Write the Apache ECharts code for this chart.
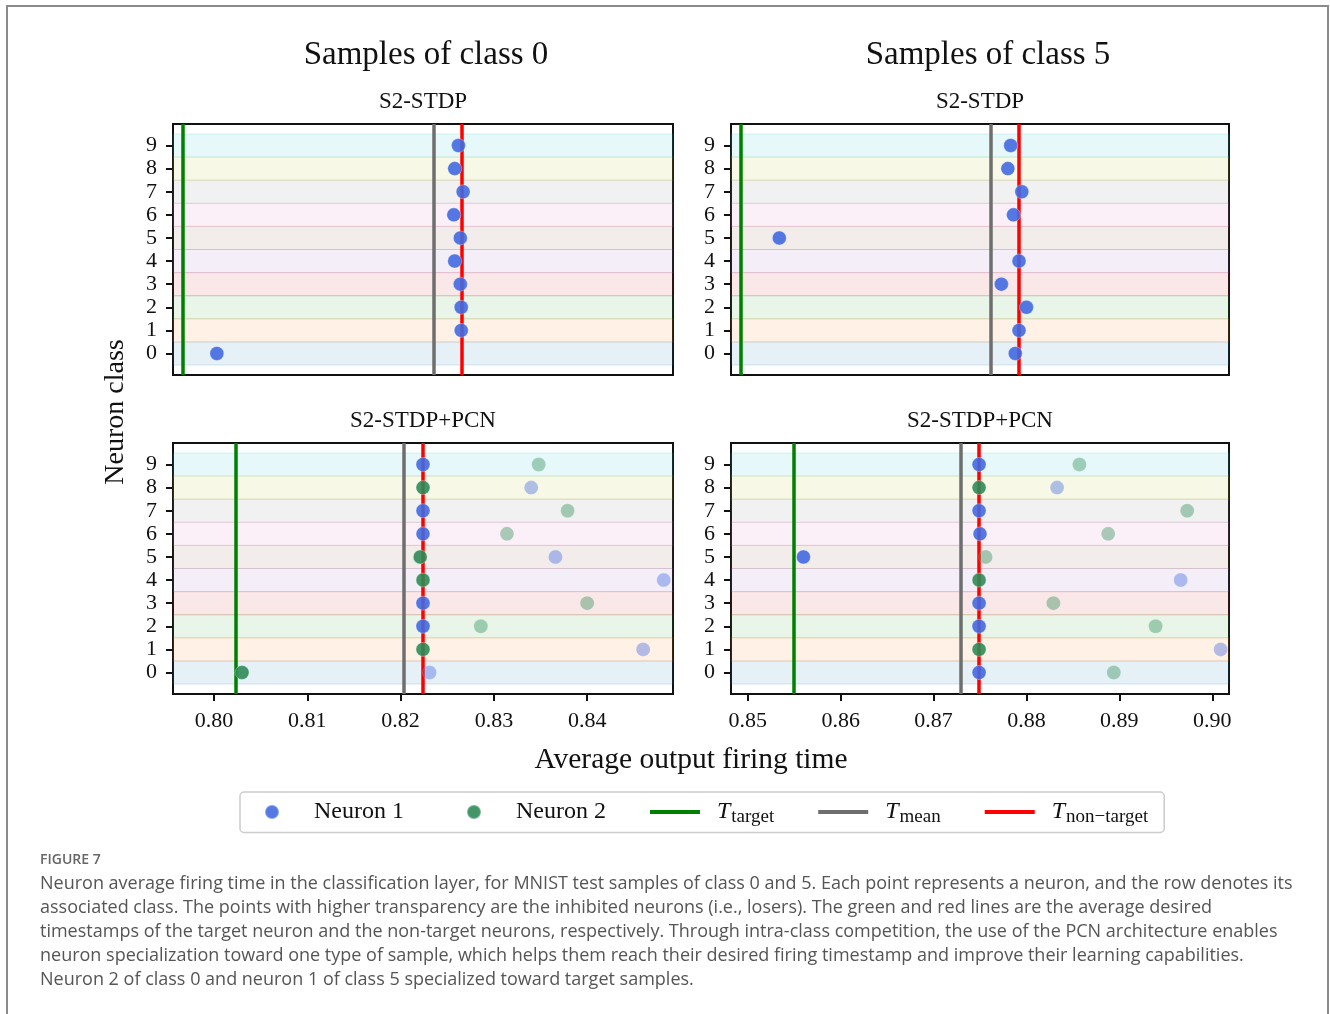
<!DOCTYPE html>
<html>
<head>
<meta charset="utf-8">
<script src="https://cdn.jsdelivr.net/npm/echarts@6/dist/echarts.min.js"></script>
<style>
  html, body { margin: 0; padding: 0; background: #fff; }
  #chart { width: 1330px; height: 1014px; }
</style>
</head>
<body>
<div id="chart"></div>
<script>
// neuron classes (rows) and tick labels
const classes = [0, 1, 2, 3, 4, 5, 6, 7, 8, 9]
const yTicks = [0, 1, 2, 3, 4, 5, 6, 7, 8, 9]
const xTicksClass0 = [0.80, 0.81, 0.82, 0.83, 0.84]
const xTicksClass5 = [0.85, 0.86, 0.87, 0.88, 0.89, 0.90]

// S2-STDP: one neuron per class, average firing time (index = class)
const stdpClass0 = [0.8003, 0.8265, 0.8265, 0.8264, 0.8258, 0.8264, 0.8257, 0.8267, 0.8258, 0.8262]
const stdpClass5 = [0.8788, 0.8792, 0.8800, 0.8773, 0.8792, 0.8534, 0.8786, 0.8795, 0.8780, 0.8783]

// S2-STDP+PCN: two neurons per class
const pcnClass0N1 = [0.8231, 0.8460, 0.8224, 0.8224, 0.8482, 0.8366, 0.8224, 0.8224, 0.8340, 0.8224]
const pcnClass0N2 = [0.8030, 0.8224, 0.8286, 0.8400, 0.8224, 0.8221, 0.8314, 0.8379, 0.8224, 0.8348]
const pcnClass5N1 = [0.8749, 0.9009, 0.8749, 0.8749, 0.8966, 0.8560, 0.8750, 0.8749, 0.8833, 0.8749]
const pcnClass5N2 = [0.8894, 0.8749, 0.8939, 0.8829, 0.8749, 0.8756, 0.8888, 0.8973, 0.8749, 0.8857]
// neuron that wins the competition in each class (the other one is inhibited)
const winnerClass0 = [2, 2, 1, 1, 2, 2, 1, 1, 2, 1]
const winnerClass5 = [1, 2, 1, 1, 2, 1, 1, 1, 2, 1]

// [T_target, T_mean, T_non-target]
const timesStdp0 = [0.7966, 0.8236, 0.8266]
const timesStdp5 = [0.8492, 0.8762, 0.8792]
const timesPcn0 = [0.8023, 0.8203, 0.8224]
const timesPcn5 = [0.8549, 0.8729, 0.8749]

const SERIF = '"Liberation Serif", "DejaVu Serif", serif'
const tab10 = ['31,119,180', '255,127,14', '44,160,44', '214,39,40', '148,103,189',
  '140,86,75', '227,119,194', '127,127,127', '188,189,34', '23,190,207']
const lineNames = ['target', 'mean', 'nontarget']
const lineColors = ['#008000', '#6e6e6e', '#ff0000']

// legend icons, both drawn inside a 50x14 box
const dotIcon = 'path://M0,7L0,7M50,7L50,7M25,0A7,7 0 1,1 25,14A7,7 0 1,1 25,0Z'
const barIcon = 'path://M0,5L50,5L50,9L0,9Z M0,0L0,0M0,14L0,14'

const panels = [
  { grid: { left: 173, top: 124, width: 500, height: 251 }, range: [0.7956, 0.8492], ticks: xTicksClass0, bottom: false,
    n1: stdpClass0, n2: null, winner: null, times: timesStdp0 },
  { grid: { left: 731, top: 124, width: 498, height: 251 }, range: [0.8482, 0.9018], ticks: xTicksClass5, bottom: false,
    n1: stdpClass5, n2: null, winner: null, times: timesStdp5 },
  { grid: { left: 173, top: 443, width: 500, height: 251 }, range: [0.7956, 0.8492], ticks: xTicksClass0, bottom: true,
    n1: pcnClass0N1, n2: pcnClass0N2, winner: winnerClass0, times: timesPcn0 },
  { grid: { left: 731, top: 443, width: 498, height: 251 }, range: [0.8482, 0.9018], ticks: xTicksClass5, bottom: true,
    n1: pcnClass5N1, n2: pcnClass5N2, winner: winnerClass5, times: timesPcn5 }
]

const grids = []
const xAxes = []
const yAxes = []
const series = []

function dots (values, neuron, winner) {
  return classes.map(c => ({
    value: [values[c], c],
    itemStyle: { opacity: winner && winner[c] !== neuron ? 0.4 : 0.9 }
  }))
}

panels.forEach((p, i) => {
  grids.push(Object.assign({ show: true, borderColor: '#111', borderWidth: 2, backgroundColor: 'transparent', containLabel: false, outerBoundsMode: 'none' }, p.grid))
  xAxes.push({
    type: 'value', gridIndex: i, min: p.range[0], max: p.range[1],
    axisLine: { show: true, onZero: false, lineStyle: { color: '#111', width: 2 } },
    axisTick: { show: p.bottom, length: 7, customValues: p.ticks, lineStyle: { color: '#111', width: 2 } },
    axisLabel: { show: p.bottom, customValues: p.ticks, margin: 16, formatter: v => v.toFixed(2),
      fontFamily: SERIF, fontSize: 22, color: '#111' },
    splitLine: { show: false }
  })
  yAxes.push({
    type: 'value', gridIndex: i, min: -0.93, max: 9.93,
    axisLine: { show: true, onZero: false, lineStyle: { color: '#111', width: 2 } },
    axisTick: { show: true, length: 7, customValues: yTicks, lineStyle: { color: '#111', width: 2 } },
    axisLabel: { show: true, customValues: yTicks, margin: 16, fontFamily: SERIF, fontSize: 22, color: '#111' },
    splitLine: { show: false }
  })

  // coloured class bands
  series.push({
    type: 'scatter', name: 'bands', xAxisIndex: i, yAxisIndex: i, data: [], silent: true, z: 1,
    markArea: {
      silent: true,
      data: classes.map(c => [
        { yAxis: c - 0.5, itemStyle: { color: 'rgba(' + tab10[c] + ',0.11)', borderColor: 'rgba(' + tab10[c] + ',0.16)', borderWidth: 1 } },
        { yAxis: c + 0.5 }
      ])
    }
  })

  // T_target, T_mean, T_non-target
  p.times.forEach((t, k) => {
    series.push({
      type: 'line', name: lineNames[k], xAxisIndex: i, yAxisIndex: i, data: [], symbol: 'none', z: 3,
      lineStyle: { color: lineColors[k], width: 4 }, itemStyle: { color: lineColors[k] },
      markLine: {
        silent: true, symbol: ['none', 'none'], precision: 6, label: { show: false },
        lineStyle: { color: lineColors[k], width: 3.5, type: 'solid', opacity: 1 },
        data: [{ xAxis: t }]
      }
    })
  })

  series.push({
    type: 'scatter', name: 'Neuron 1', xAxisIndex: i, yAxisIndex: i, symbolSize: 14, z: 5,
    itemStyle: { color: '#4169e1', borderColor: 'rgba(255,255,255,0.35)', borderWidth: 1, opacity: 0.9 },
    data: dots(p.n1, 1, p.winner)
  })
  if (p.n2) {
    series.push({
      type: 'scatter', name: 'Neuron 2', xAxisIndex: i, yAxisIndex: i, symbolSize: 14, z: 5,
      itemStyle: { color: '#2e8b57', borderColor: 'rgba(255,255,255,0.35)', borderWidth: 1, opacity: 0.9 },
      data: dots(p.n2, 2, p.winner)
    })
  }
})

function txt (text, x, y, size, extra) {
  return Object.assign({
    type: 'text', x: x, y: y, silent: true,
    style: { text: text, x: 0, y: 0, font: size + 'px ' + SERIF, fill: '#111',
      align: 'center', verticalAlign: 'middle', textAlign: 'center', textVerticalAlign: 'middle' }
  }, extra || {})
}

const caption = [
  'Neuron average firing time in the classification layer, for MNIST test samples of class 0 and 5. Each point represents a neuron, and the row denotes its',
  'associated class. The points with higher transparency are the inhibited neurons (i.e., losers). The green and red lines are the average desired',
  'timestamps of the target neuron and the non-target neurons, respectively. Through intra-class competition, the use of the PCN architecture enables',
  'neuron specialization toward one type of sample, which helps them reach their desired firing timestamp and improve their learning capabilities.',
  'Neuron 2 of class 0 and neuron 1 of class 5 specialized toward target samples.'
]

const legendLabels = {
  'Neuron 1': '{n|Neuron 1}',
  'Neuron 2': '{n|Neuron 2}',
  target: '{t|T}{s|target}',
  mean: '{t|T}{s|mean}',
  nontarget: '{t|T}{s|non−target}'
}

const option = {
  animation: false,
  backgroundColor: '#fff',
  grid: grids,
  xAxis: xAxes,
  yAxis: yAxes,
  legend: {
    left: 240, top: 792,
    data: [
      { name: 'Neuron 1', icon: dotIcon, itemStyle: { color: '#4169e1', opacity: 0.9 } },
      { name: 'Neuron 2', icon: dotIcon, itemStyle: { color: '#2e8b57', opacity: 0.9 } },
      { name: 'target', icon: barIcon, itemStyle: { color: lineColors[0] } },
      { name: 'mean', icon: barIcon, itemStyle: { color: lineColors[1] } },
      { name: 'nontarget', icon: barIcon, itemStyle: { color: lineColors[2] } }
    ],
    itemWidth: 50, itemHeight: 14, itemGap: 44,
    padding: [8, 16, 6, 6],
    borderColor: '#cccccc', borderWidth: 1.5, borderRadius: 4,
    selectedMode: false,
    formatter: name => legendLabels[name],
    textStyle: {
      rich: {
        n: { fontFamily: SERIF, fontSize: 24, color: '#111', padding: [0, 0, 0, 12] },
        t: { fontFamily: SERIF, fontSize: 24, fontStyle: 'italic', color: '#111', padding: [0, 0, 0, 12] },
        s: { fontFamily: SERIF, fontSize: 19, color: '#111', padding: [10, 0, 0, 1] }
      }
    }
  },
  graphic: [
    { type: 'polyline', silent: true, shape: { points: [[7, 1014], [7, 6], [1328, 6], [1328, 1014]] },
      style: { stroke: '#8a8a8a', lineWidth: 2, fill: null } },
    txt('Samples of class 0', 426, 55, 33),
    txt('Samples of class 5', 988, 55, 33),
    txt('S2-STDP', 423, 102, 23),
    txt('S2-STDP', 980, 102, 23),
    txt('S2-STDP+PCN', 423, 421, 23),
    txt('S2-STDP+PCN', 980, 421, 23),
    txt('Neuron class', 116, 412, 28, { rotation: Math.PI / 2 }),
    txt('Average output firing time', 691, 760, 29.5),
    { type: 'text', x: 40, y: 860, silent: true,
      style: { text: 'FIGURE 7', font: '600 14px "Open Sans", sans-serif', fill: '#666',
        verticalAlign: 'middle', textVerticalAlign: 'middle' } },
    { type: 'text', x: 40, y: 872, silent: true,
      style: { text: caption.join('\n'), font: '18px "Open Sans", sans-serif', fill: '#555', lineHeight: 24 } }
  ],
  series: series
}

const chart = echarts.init(document.getElementById('chart'))
chart.setOption(option)
</script>
</body>
</html>
